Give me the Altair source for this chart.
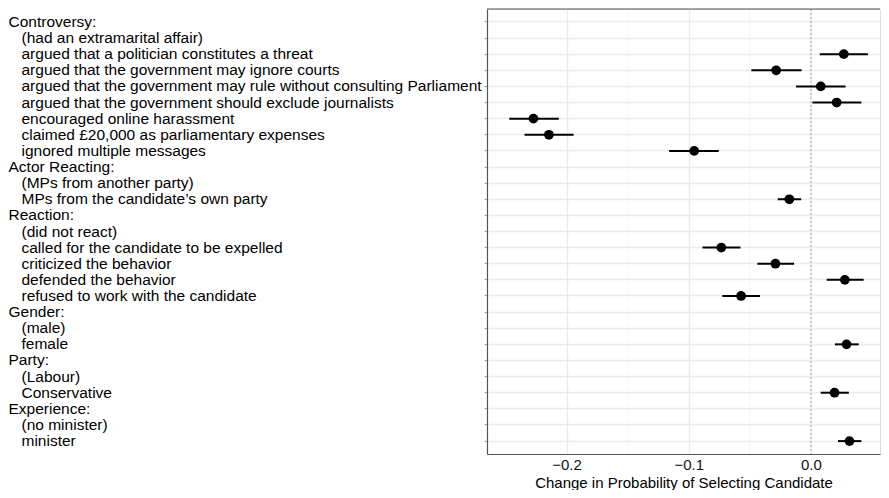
import altair as alt
import pandas as pd

labels = [
    "Controversy:",
    "(had an extramarital affair)",
    "argued that a politician constitutes a threat",
    "argued that the government may ignore courts",
    "argued that the government may rule without consulting Parliament",
    "argued that the government should exclude journalists",
    "encouraged online harassment",
    "claimed £20,000 as parliamentary expenses",
    "ignored multiple messages",
    "Actor Reacting:",
    "(MPs from another party)",
    "MPs from the candidate\u2019s own party",
    "Reaction:",
    "(did not react)",
    "called for the candidate to be expelled",
    "criticized the behavior",
    "defended the behavior",
    "refused to work with the candidate",
    "Gender:",
    "(male)",
    "female",
    "Party:",
    "(Labour)",
    "Conservative",
    "Experience:",
    "(no minister)",
    "minister",
]

estimate = [None, None, 0.027, -0.0284, 0.0081, 0.0211, -0.2271, -0.2144, -0.0955,
            None, None, -0.0176,
            None, None, -0.0733, -0.029, 0.0278, -0.0571,
            None, None, 0.0292,
            None, None, 0.0194,
            None, None, 0.0316]
lower = [None, None, 0.0073, -0.0487, -0.0122, 0.0013, -0.2469, -0.2344, -0.116,
         None, None, -0.0271,
         None, None, -0.0887, -0.0438, 0.013, -0.0725,
         None, None, 0.0197,
         None, None, 0.0081,
         None, None, 0.0222]
upper = [None, None, 0.0467, -0.0076, 0.0284, 0.0413, -0.2063, -0.1942, -0.0754,
         None, None, -0.0079,
         None, None, -0.0576, -0.0138, 0.0432, -0.0417,
         None, None, 0.0392,
         None, None, 0.0311,
         None, None, 0.0413]

major_breaks = [-0.2, -0.1, 0.0]
minor_breaks = [-0.15, -0.05]
x_domain = [-0.2651, 0.0566]

df = pd.DataFrame({"label": labels, "est": estimate, "lo": lower, "hi": upper})
df = df.dropna()

FONT = "Liberation Sans"
W, H = 393, 445

xscale = alt.Scale(domain=x_domain, nice=False, zero=False)
yscale = alt.Scale(domain=labels, padding=0.6)

xaxis = alt.Axis(values=major_breaks, format=".1f", title="Change in Probability of Selecting Candidate",
                 grid=True, gridColor="#ebebeb", gridWidth=1.4, ticks=False,
                 domainColor="#555555", domainWidth=1.2, labelFont=FONT, labelFontSize=15,
                 labelColor="#111111", labelPadding=3, titleFont=FONT, titleFontSize=15,
                 titleFontWeight="normal", titleColor="#000000", titlePadding=3)
yaxis = alt.Axis(title=None, grid=True, gridColor="#ebebeb", gridWidth=1.4,
                 labelAlign="left",
                 labelPadding=alt.condition("indexof(datum.label, ':') >= 0", alt.value(476), alt.value(463)),
                 tickSize=3, tickColor="#aaaaaa",
                 tickWidth=1.2, domainColor="#555555", domainWidth=1.2,
                 labelFont=FONT, labelFontSize=15.5, labelColor="#000000", labelLimit=0)

minor_df = pd.DataFrame({"x": minor_breaks})
minor = alt.Chart(minor_df).mark_rule(color="#f2f2f2", strokeWidth=0.8).encode(
    x=alt.X("x:Q", scale=xscale, axis=xaxis)
)

zero_df = pd.DataFrame({"x": [0.0]})
zero = alt.Chart(zero_df).mark_rule(color="#aaaaaa", strokeWidth=1, strokeDash=[2, 2]).encode(
    x=alt.X("x:Q", scale=xscale)
)

base = alt.Chart(df)
bars = base.mark_rule(color="black", strokeWidth=2).encode(
    y=alt.Y("label:N", scale=yscale, axis=yaxis, sort=labels),
    x=alt.X("lo:Q", scale=xscale),
    x2="hi:Q",
)
pts = base.mark_circle(color="black", opacity=1, size=95).encode(
    y=alt.Y("label:N", scale=yscale, sort=labels),
    x=alt.X("est:Q", scale=xscale),
)

# top panel border
top = alt.Chart(zero_df).mark_rule(color="#555555", strokeWidth=1.2).encode(
    x=alt.value(0), x2=alt.value(W), y=alt.value(0)
)

chart = alt.layer(minor, zero, bars, pts, top).properties(
    width=W, height=H, padding=0
).configure_view(stroke=None).configure(background="white")

chart.save("out.html", embed_options={"renderer": "svg", "actions": False})
